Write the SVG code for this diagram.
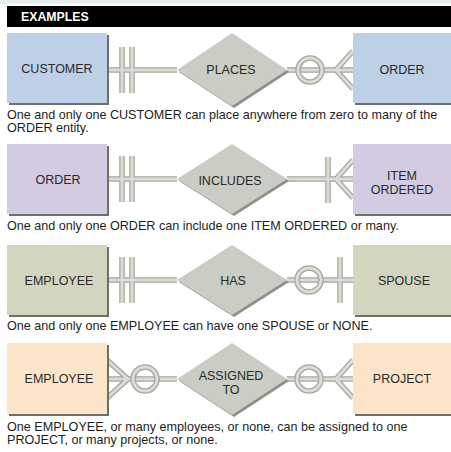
<svg xmlns="http://www.w3.org/2000/svg" xmlns:xlink="http://www.w3.org/1999/xlink" width="451" height="452" viewBox="0 0 451 452">
  <style>
    .lbl { font-family: "Liberation Sans", Arial, sans-serif; font-size: 12.5px; fill: #2a2a2a; text-anchor: middle; }
    .cap { font-family: "Liberation Sans", Arial, sans-serif; font-size: 12.6px; fill: #1e1e1e; }
    .hdr { font-family: "Liberation Sans", Arial, sans-serif; font-size: 12.3px; font-weight: bold; fill: #ffffff; }
    .shadow { fill: #6f706c; }
    .dshadow { fill: #8d9188; }
    .diamond { fill: #c9cdc3; }
    .blue { fill: #bdd0e8; }
    .lilac { fill: #d2cbe2; }
    .olive { fill: #d3d5bf; }
    .peach { fill: #fce4c8; }
    .tube-out { fill: none; stroke: #a2a69b; stroke-width: 5.5; stroke-linecap: butt; }
    .tube-in { fill: none; stroke: #d9ddd3; stroke-width: 3; stroke-linecap: butt; }
  </style>
  <defs>
    <!-- connector geometry, drawn twice (edge + light core) for a tube look -->
    <path id="c1" d="M107 70H177M287 70H353M122 47V93M132 47V93M336 70L353 51M336 70L353 89"/>
    <circle id="o1" cx="310" cy="70" r="12"/>
    <path id="c2" d="M107 179H177M287 179H353M122 156V202M132 156V202M328 157V203M336 179L353 160M336 179L353 198"/>
    <path id="c3" d="M107 280H177M287 280H353M122 257V303M132 257V303M340 257V303"/>
    <circle id="o3" cx="309" cy="280" r="12"/>
    <path id="c4" d="M107 379H177M287 379H353M128 379L107 360M128 379L107 398M336 379L353 360M336 379L353 398"/>
    <circle id="o4a" cx="145" cy="379" r="12"/>
    <circle id="o4b" cx="309" cy="379" r="12"/>
  </defs>

  <rect x="0" y="0" width="451" height="452" fill="#ffffff"/>
  <rect x="0" y="0" width="451" height="4" fill="#e5edef"/>

  <!-- header bar -->
  <g id="header">
    <rect x="7" y="6" width="444" height="21" fill="#000000"/>
    <text class="hdr" x="21" y="21">EXAMPLES</text>
  </g>

  <!-- connectors -->
  <g id="connectors">
    <use xlink:href="#c1" class="tube-out"/><use xlink:href="#c1" class="tube-in"/>
    <use xlink:href="#o1" class="tube-out"/><use xlink:href="#o1" class="tube-in"/>
    <use xlink:href="#c2" class="tube-out"/><use xlink:href="#c2" class="tube-in"/>
    <use xlink:href="#c3" class="tube-out"/><use xlink:href="#c3" class="tube-in"/>
    <use xlink:href="#o3" class="tube-out"/><use xlink:href="#o3" class="tube-in"/>
    <use xlink:href="#c4" class="tube-out"/><use xlink:href="#c4" class="tube-in"/>
    <use xlink:href="#o4a" class="tube-out"/><use xlink:href="#o4a" class="tube-in"/>
    <use xlink:href="#o4b" class="tube-out"/><use xlink:href="#o4b" class="tube-in"/>
  </g>

  <!-- row 1 -->
  <g id="customer">
    <rect class="shadow" x="9" y="35" width="100" height="70"/>
    <rect class="blue" x="7" y="33" width="100" height="70"/>
    <text class="lbl" x="57" y="73">CUSTOMER</text>
  </g>
  <g id="places">
    <polygon class="dshadow" points="179,72 234,35 289,72 234,108"/>
    <polygon class="diamond" points="177,70 232,33 287,70 232,106"/>
    <text class="lbl" x="231" y="74">PLACES</text>
  </g>
  <g id="order1">
    <rect class="shadow" x="355" y="35" width="98" height="70"/>
    <rect class="blue" x="353" y="33" width="98" height="70"/>
    <text class="lbl" x="402" y="74">ORDER</text>
  </g>
  <text class="cap" x="7" y="119">One and only one CUSTOMER can place anywhere from zero to many of the</text>
  <text class="cap" x="7" y="132">ORDER entity.</text>

  <!-- row 2 -->
  <g id="order2">
    <rect class="shadow" x="9" y="146" width="100" height="70"/>
    <rect class="lilac" x="7" y="144" width="100" height="70"/>
    <text class="lbl" x="58" y="184">ORDER</text>
  </g>
  <g id="includes">
    <polygon class="dshadow" points="179,181 234,146 289,181 234,216"/>
    <polygon class="diamond" points="177,179 232,144 287,179 232,214"/>
    <text class="lbl" x="230" y="185">INCLUDES</text>
  </g>
  <g id="item-ordered">
    <rect class="shadow" x="355" y="146" width="98" height="70"/>
    <rect class="lilac" x="353" y="144" width="98" height="70"/>
    <text class="lbl" x="402" y="180">ITEM</text>
    <text class="lbl" x="402" y="194">ORDERED</text>
  </g>
  <text class="cap" x="7" y="230">One and only one ORDER can include one ITEM ORDERED or many.</text>

  <!-- row 3 -->
  <g id="employee1">
    <rect class="shadow" x="9" y="247" width="100" height="70"/>
    <rect class="olive" x="7" y="245" width="100" height="70"/>
    <text class="lbl" x="59" y="285">EMPLOYEE</text>
  </g>
  <g id="has">
    <polygon class="dshadow" points="179,282 234,247 289,282 234,317"/>
    <polygon class="diamond" points="177,280 232,245 287,280 232,315"/>
    <text class="lbl" x="233" y="285">HAS</text>
  </g>
  <g id="spouse">
    <rect class="shadow" x="355" y="247" width="98" height="70"/>
    <rect class="olive" x="353" y="245" width="98" height="70"/>
    <text class="lbl" x="404" y="285">SPOUSE</text>
  </g>
  <text class="cap" x="7" y="330">One and only one EMPLOYEE can have one SPOUSE or NONE.</text>

  <!-- row 4 -->
  <g id="employee2">
    <rect class="shadow" x="9" y="345" width="100" height="71"/>
    <rect class="peach" x="7" y="343" width="100" height="71"/>
    <text class="lbl" x="59" y="383">EMPLOYEE</text>
  </g>
  <g id="assigned-to">
    <polygon class="dshadow" points="179,381 234,345 289,381 234,417"/>
    <polygon class="diamond" points="177,379 232,343 287,379 232,415"/>
    <text class="lbl" x="231" y="380">ASSIGNED</text>
    <text class="lbl" x="231" y="394">TO</text>
  </g>
  <g id="project">
    <rect class="shadow" x="355" y="345" width="98" height="71"/>
    <rect class="peach" x="353" y="343" width="98" height="71"/>
    <text class="lbl" x="402" y="383">PROJECT</text>
  </g>
  <text class="cap" x="7" y="431">One EMPLOYEE, or many employees, or none, can be assigned to one</text>
  <text class="cap" x="7" y="444">PROJECT, or many projects, or none.</text>
</svg>
